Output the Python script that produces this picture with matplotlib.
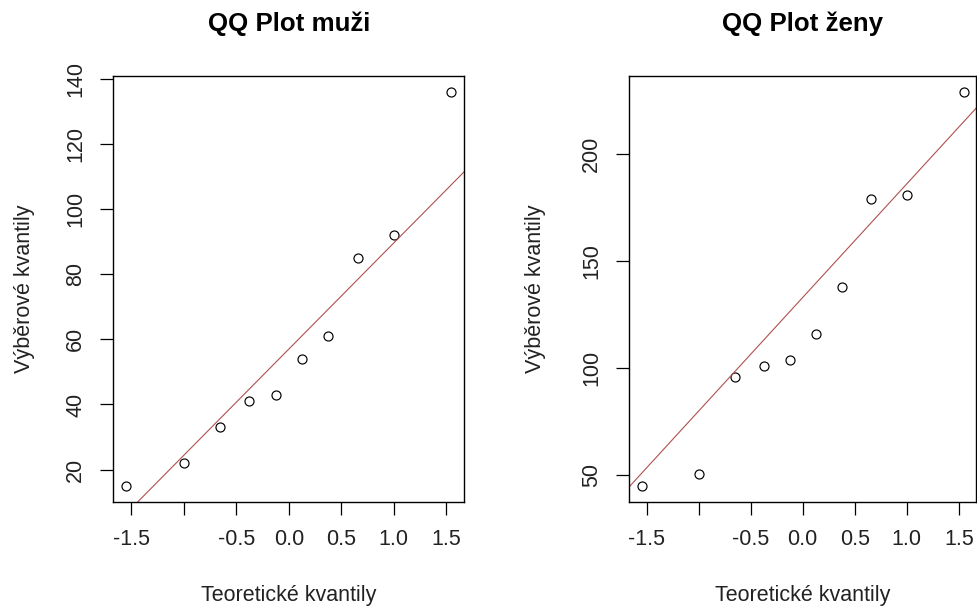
import numpy as np
import matplotlib
matplotlib.use("Agg")
import matplotlib.pyplot as plt

plt.rcParams['font.family'] = ['Liberation Sans', 'DejaVu Sans']

# Theoretical normal quantiles for n = 10 (ppoints with a = 3/8)
theoretical = [-1.5466, -1.0005, -0.6554, -0.3755, -0.1226,
               0.1226, 0.3755, 0.6554, 1.0005, 1.5466]

# Sorted sample values
men = [15, 22, 33, 41, 43, 54, 61, 85, 92, 136]
women = [45, 50.5, 96, 101, 104, 116, 138, 179, 181, 229]

x_ticks = [-1.5, -1.0, -0.5, 0.0, 0.5, 1.0, 1.5]
x_ticklabels = ['-1.5', '', '-0.5', '0.0', '0.5', '1.0', '1.5']
men_yticks = [20, 40, 60, 80, 100, 120, 140]
women_yticks = [50, 100, 150, 200]

titles = ['QQ Plot muži', 'QQ Plot ženy']
xlabel = 'Teoretické kvantily'
ylabel = 'Výběrové kvantily'

W, H = 978, 610
fig = plt.figure(figsize=(W / 100, H / 100), dpi=100)

# panel boxes in pixels: (left, right), shared top/bottom
panels = [
    (men, men_yticks, (113.3, 464.3), 25),
    (women, women_yticks, (629, 976.5), 536),
]
top_px, bot_px = 76, 501.7
FS = 15.5


def r_range(v):
    lo, hi = min(v), max(v)
    pad = 0.04 * (hi - lo)
    return lo - pad, hi + pad


for (vals, yt, (x0, x1), ylab_x), title in zip(panels, titles):
    ax = fig.add_axes([x0 / W, 1 - bot_px / H, (x1 - x0) / W, (bot_px - top_px) / H])
    ax.plot(theoretical, vals, linestyle='none', marker='o', markersize=6.5,
            markerfacecolor='none', markeredgecolor='black', markeredgewidth=0.85)

    # reference line through the first and third quartiles
    q = np.quantile(vals, [0.25, 0.75])
    zq = np.array([-0.6744898, 0.6744898])
    slope = (q[1] - q[0]) / (zq[1] - zq[0])
    intercept = q[0] - slope * zq[0]
    xl = r_range(theoretical)
    xs = np.array([xl[0] - 1, xl[1] + 1])
    ax.plot(xs, intercept + slope * xs, color='#b05050', linewidth=0.8)

    ax.set_xlim(*xl)
    ax.set_ylim(*r_range(vals))
    ax.set_xticks(x_ticks)
    ax.set_xticklabels(x_ticklabels)
    ax.set_yticks(yt)
    ax.set_yticklabels([str(t) for t in yt], rotation=90, va='center')
    ax.tick_params(axis='both', direction='out', length=9.4, width=0.9,
                   labelsize=FS, colors='black', pad=10)
    ax.tick_params(axis='x', labelcolor='#222222')
    ax.tick_params(axis='y', labelcolor='#222222')
    for s in ax.spines.values():
        s.set_linewidth(1.0)

    cx = (x0 + x1) / 2 / W
    fig.text(cx, 1 - 24 / H, title, fontsize=18.6, fontweight='bold',
             ha='center', va='center')
    fig.text(cx, 1 - 596 / H, xlabel, fontsize=FS, ha='center', va='center',
             color='#222222')
    fig.text(ylab_x / W, 1 - (top_px + bot_px) / 2 / H, ylabel, fontsize=FS,
             rotation=90, ha='center', va='center', color='#222222')

fig.savefig('out.png', dpi=100)
